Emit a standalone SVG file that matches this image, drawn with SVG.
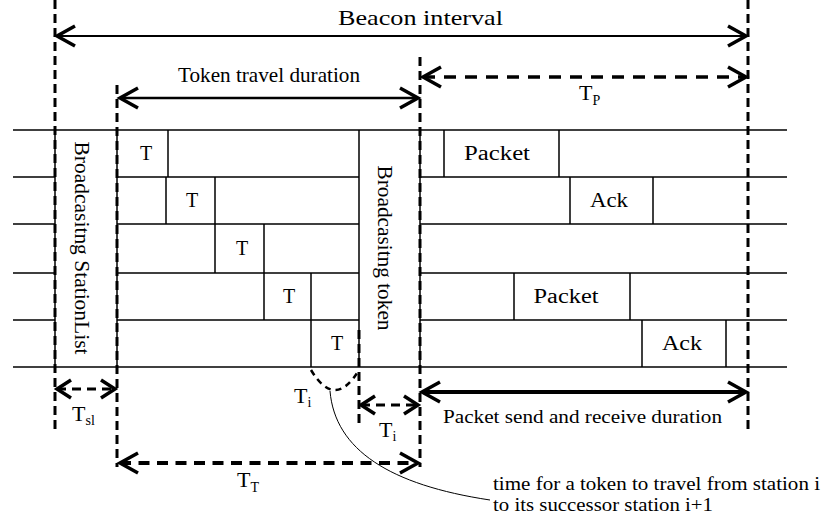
<svg xmlns="http://www.w3.org/2000/svg" width="827" height="520" viewBox="0 0 827 520">
<style>
  text { font-family: "Liberation Serif", "Times New Roman", serif; fill: #000; }
  .lbl { font-size: 20px; text-anchor: middle; dominant-baseline: central; }
  .tl { font-size: 22px; }
  .sub { font-size: 14px; }
  .grid { stroke: #000; stroke-width: 1.5; fill: none; }
  .vdash { stroke: #000; stroke-width: 3; stroke-dasharray: 9 5; fill: none; }
  .arrow { stroke: #000; fill: none; }
</style>
<defs>
  <marker id="ah" markerUnits="userSpaceOnUse" markerWidth="26" markerHeight="26" viewBox="-22 -13 26 26" refX="0" refY="0" orient="auto-start-reverse">
    <path d="M-18,-10 L0,0 L-18,10" fill="none" stroke="#000" stroke-width="3.5"/>
  </marker>
  <marker id="ahs" markerUnits="userSpaceOnUse" markerWidth="22" markerHeight="22" viewBox="-18 -11 22 22" refX="0" refY="0" orient="auto-start-reverse">
    <path d="M-14,-9 L0,0 L-14,9" fill="none" stroke="#000" stroke-width="3.5"/>
  </marker>
</defs>
<rect width="827" height="520" fill="#fff"/>

<g id="timeline-grid" class="grid">
  <line x1="13" y1="130" x2="787" y2="130"/>
  <line x1="13" y1="367" x2="787" y2="367"/>
  <path d="M13,177H55 M117,177H359 M420,177H787"/>
  <path d="M13,224H55 M117,224H359 M420,224H787"/>
  <path d="M13,273H55 M117,273H359 M420,273H787"/>
  <path d="M13,320H55 M117,320H359 M420,320H787"/>
</g>

<g id="broadcast-stationlist">
  <path class="grid" d="M55,130V367 M117,130V367"/>
  <text transform="translate(82,248) rotate(90)" class="lbl" textLength="213" lengthAdjust="spacingAndGlyphs">Broadcasitng StationList</text>
</g>

<g id="broadcast-token">
  <path class="grid" d="M359,130V367 M420,130V367"/>
  <text transform="translate(385,248) rotate(90)" class="lbl" textLength="165" lengthAdjust="spacingAndGlyphs">Broadcasitng token</text>
</g>

<g id="token-1">
  <path class="grid" d="M168,130V177"/>
  <text x="146" y="153" class="lbl">T</text>
</g>
<g id="token-2">
  <path class="grid" d="M166,177V224 M215,177V224"/>
  <text x="192" y="200" class="lbl">T</text>
</g>
<g id="token-3">
  <path class="grid" d="M215,224V273 M264,224V273"/>
  <text x="242" y="248" class="lbl">T</text>
</g>
<g id="token-4">
  <path class="grid" d="M264,273V320 M311,273V320"/>
  <text x="289" y="296" class="lbl">T</text>
</g>
<g id="token-5">
  <path class="grid" d="M311,320V367"/>
  <text x="337" y="343" class="lbl">T</text>
</g>

<g id="packet-1">
  <path class="grid" d="M444,130V177 M559,130V177"/>
  <text x="497" y="153" class="lbl" textLength="66" lengthAdjust="spacingAndGlyphs">Packet</text>
</g>
<g id="ack-1">
  <path class="grid" d="M570,177V224 M653,177V224"/>
  <text x="609" y="200" class="lbl" textLength="38" lengthAdjust="spacingAndGlyphs">Ack</text>
</g>
<g id="packet-2">
  <path class="grid" d="M514,273V320 M630,273V320"/>
  <text x="566" y="296" class="lbl" textLength="65" lengthAdjust="spacingAndGlyphs">Packet</text>
</g>
<g id="ack-2">
  <path class="grid" d="M642,320V367 M726,320V367"/>
  <text x="682" y="343" class="lbl" textLength="40" lengthAdjust="spacingAndGlyphs">Ack</text>
</g>

<g id="connectors">
  <line class="vdash" x1="55" y1="0" x2="55" y2="430"/>
  <line class="vdash" x1="117" y1="85" x2="117" y2="467"/>
  <line class="vdash" x1="420" y1="57" x2="420" y2="467"/>
  <line class="vdash" x1="748" y1="0" x2="748" y2="430"/>
  <line class="vdash" x1="359" y1="330" x2="359" y2="425"/>

  <line class="arrow" x1="57" y1="36" x2="746" y2="36" stroke-width="2" marker-start="url(#ah)" marker-end="url(#ah)"/>
  <line class="arrow" x1="120" y1="98" x2="418" y2="98" stroke-width="2.5" marker-start="url(#ah)" marker-end="url(#ah)"/>
  <line class="arrow" x1="423" y1="77" x2="746" y2="77" stroke-width="3.5" stroke-dasharray="12 9" marker-start="url(#ah)" marker-end="url(#ah)"/>
  <line class="arrow" x1="57" y1="389" x2="115" y2="389" stroke-width="3" stroke-dasharray="9 6" marker-start="url(#ahs)" marker-end="url(#ahs)"/>
  <line class="arrow" x1="361" y1="405" x2="418" y2="405" stroke-width="3" stroke-dasharray="9 6" marker-start="url(#ahs)" marker-end="url(#ahs)"/>
  <line class="arrow" x1="422" y1="392" x2="746" y2="392" stroke-width="4" marker-start="url(#ah)" marker-end="url(#ah)"/>
  <line class="arrow" x1="120" y1="463" x2="418" y2="463" stroke-width="4" stroke-dasharray="11 7.5" marker-start="url(#ah)" marker-end="url(#ah)"/>

  <path class="arrow" d="M311,370 Q335,410 359,370" stroke-width="2.5" stroke-dasharray="6 5"/>
  <path class="arrow" d="M330,391 C335,450 390,485 490,500" stroke-width="1"/>
</g>

<g id="labels">
  <text x="420.5" y="25" font-size="22" text-anchor="middle" textLength="165" lengthAdjust="spacingAndGlyphs">Beacon interval</text>
  <text x="269" y="82" font-size="21" text-anchor="middle" textLength="182" lengthAdjust="spacingAndGlyphs">Token travel duration</text>
  <text x="579" y="100" class="tl">T<tspan class="sub" dy="5">P</tspan></text>
  <text x="72" y="421" class="tl">T<tspan class="sub" dy="4">sl</tspan></text>
  <text x="294" y="403" class="tl">T<tspan class="sub" dy="4">i</tspan></text>
  <text x="379" y="437" class="tl">T<tspan class="sub" dy="4">i</tspan></text>
  <text x="237" y="487" class="tl">T<tspan class="sub" dy="5">T</tspan></text>
  <text x="443" y="423" font-size="19" textLength="279" lengthAdjust="spacingAndGlyphs">Packet send and receive duration</text>
  <text x="493" y="490" font-size="19" textLength="327" lengthAdjust="spacingAndGlyphs">time for a token to travel from station i</text>
  <text x="493" y="511" font-size="19" textLength="220" lengthAdjust="spacingAndGlyphs">to its successor station i+1</text>
</g>
</svg>
